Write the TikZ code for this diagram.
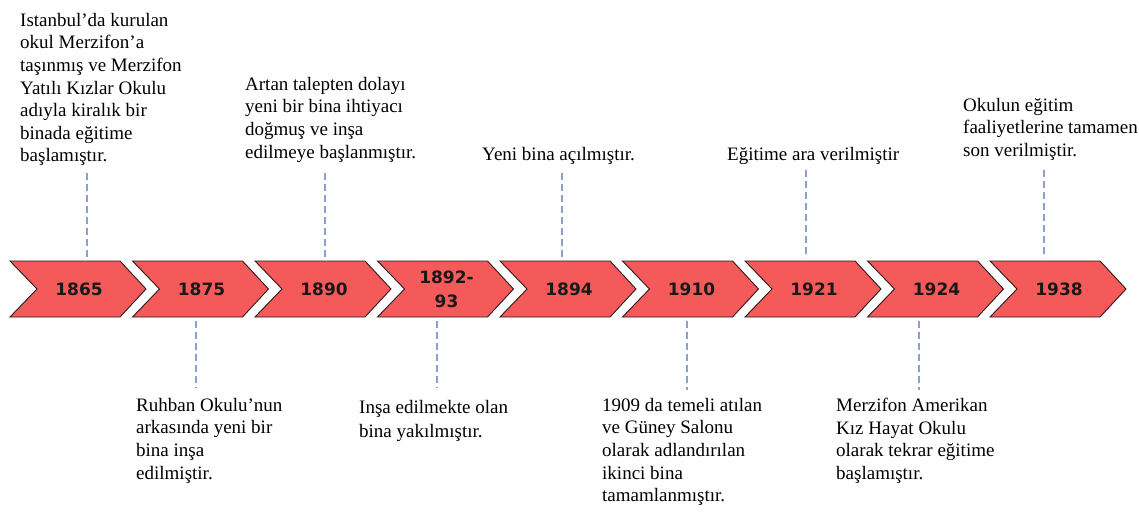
\documentclass[tikz,border=0pt]{standalone}
\usepackage{fontspec}
\setmainfont{Liberation Serif}
\newfontfamily\yearfont{DejaVu Sans}
\definecolor{chevfill}{HTML}{F45A5A}
\definecolor{chevline}{HTML}{2A1A1A}
\definecolor{dashcol}{HTML}{8C9FD0}
\begin{document}
\begin{tikzpicture}[x=1pt,y=-1pt,
  chev/.style={fill=chevfill,draw=chevline,line width=0.9pt,line join=miter},
  year/.style={font=\yearfont\bfseries\fontsize{17}{24}\selectfont,align=center,inner sep=0pt,text=black!90},
  desc/.style={font=\fontsize{19}{22.6}\selectfont,align=left,inner sep=0pt,anchor=north west},
  conn/.style={draw=dashcol,line width=2.6pt,dash pattern=on 7pt off 4pt}]
\clip (0,0) rectangle (1139,511);
\fill[white] (0,0) rectangle (1139,511);
% chevrons
\foreach \i/\yr [count=\n] in {0/1865,1/1875,2/1890,3/{1892-\\93},4/1894,5/1910,6/1921,7/1924,8/1938}{
  \pgfmathsetmacro{\L}{10+122.5*\i}
  \draw[chev] (\L,261) -- (\L+110,261) -- (\L+136,289) -- (\L+110,317) -- (\L,317) -- (\L+27,289) -- cycle;
  \node[year] (y\n) at (\L+69,289) {\yr};
}
% descriptions
\node[desc] (t1) at (20,13) {Istanbul’da kurulan\\okul Merzifon’a\\taşınmış ve Merzifon\\Yatılı Kızlar Okulu\\adıyla kiralık bir\\binada eğitime\\başlamıştır.};
\node[desc] (t2) at (245,77) {Artan talepten dolayı\\yeni bir bina ihtiyacı\\doğmuş ve inşa\\edilmeye başlanmıştır.};
\node[desc] (t3) at (482,147) {Yeni bina açılmıştır.};
\node[desc] (t4) at (727,147) {Eğitime ara verilmiştir};
\node[desc] (t5) at (963,98) {Okulun eğitim\\faaliyetlerine tamamen\\son verilmiştir.};
\node[desc] (t6) at (136,398) {Ruhban Okulu’nun\\arkasında yeni bir\\bina inşa\\edilmiştir.};
\node[desc,font=\fontsize{19}{24.5}\selectfont] (t7) at (359,400) {Inşa edilmekte olan\\bina yakılmıştır.};
\node[desc] (t8) at (602,398) {1909 da temeli atılan\\ve Güney Salonu\\olarak adlandırılan\\ikinci bina\\tamamlanmıştır.};
\node[desc] (t9) at (836,398) {Merzifon Amerikan\\Kız Hayat Okulu\\olarak tekrar eğitime\\başlamıştır.};
% connector ends
\coordinate (a1) at (87,173);  \coordinate (b1) at (87,258);
\coordinate (a3) at (325,173); \coordinate (b3) at (325,258);
\coordinate (a5) at (562,173); \coordinate (b5) at (562,258);
\coordinate (a7) at (806,170); \coordinate (b7) at (806,258);
\coordinate (a9) at (1044,170);\coordinate (b9) at (1044,258);
\coordinate (a2) at (196,321); \coordinate (b2) at (196,388);
\coordinate (a4) at (437,321); \coordinate (b4) at (437,388);
\coordinate (a6) at (687,321); \coordinate (b6) at (687,390);
\coordinate (a8) at (919,321); \coordinate (b8) at (919,390);
\foreach \k in {1,...,9}{\draw[conn] (a\k) -- (b\k);}
\end{tikzpicture}
\end{document}
